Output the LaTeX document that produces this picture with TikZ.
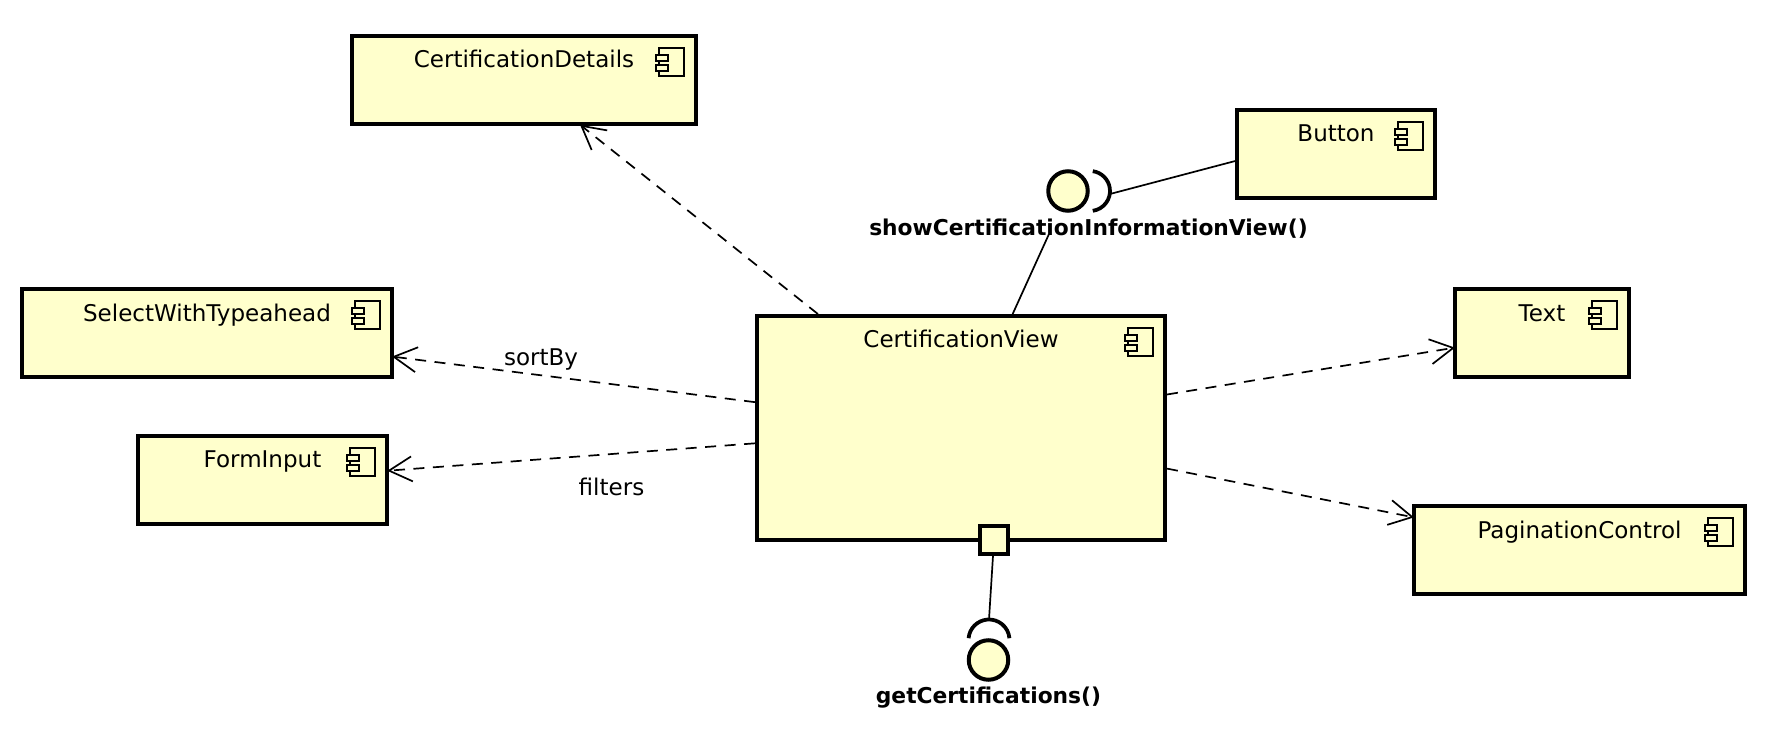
\documentclass[tikz,border=0pt]{standalone}
\usepackage{fontspec}
\setmainfont{DejaVu Sans}
\usetikzlibrary{calc, arrows.meta}
\definecolor{compfill}{HTML}{FFFFCC}
\newcommand{\compicon}[1]{%
  \begin{scope}[shift={(#1.north east)},fill=compfill,line width=.04cm]
    \filldraw (-.78,-.28) rectangle (-.28,-.84);
    \filldraw (-.84,-.42) rectangle (-.60,-.54);
    \filldraw (-.84,-.62) rectangle (-.60,-.74);
  \end{scope}}
\begin{document}
\begin{tikzpicture}[
  comp/.style={draw,fill=compfill,line width=.08cm,inner sep=0pt,minimum height=1.76cm},
  iface/.style={draw,shape=circle,fill=compfill,line width=.08cm,inner sep=0pt,minimum size=.79cm},
  compname/.style={anchor=base,inner sep=0pt,font=\fontsize{13.1}{15}\selectfont},
  ifacename/.style={anchor=base,inner sep=0pt,font=\fontsize{12.4}{15}\selectfont\bfseries},
  dep/.style={dash pattern=on .22cm off .17cm,line width=.034cm,shorten >=-.04cm,-{Straight Barb[length=.46cm,width=.5cm,line width=.034cm]}},
  conn/.style={line width=.034cm},
  socket/.style={line width=.075cm}]
  \useasboundingbox (0,0) rectangle (35.44,14.8);
  \path (10.48,13.20) node[comp,minimum width=6.87cm] (details) {}
  (4.14,8.13) node[comp,minimum width=7.40cm] (select) {}
  (5.25,5.20) node[comp,minimum width=4.99cm] (forminput) {}
  (26.72,11.72) node[comp,minimum width=3.96cm] (button) {}
  (30.84,8.13) node[comp,minimum width=3.48cm] (text) {}
  (31.59,3.80) node[comp,minimum width=6.62cm] (pagination) {}
  (19.22,6.24) node[comp,minimum width=8.16cm,minimum height=4.48cm] (view) {};
  \path ($(details.north)+(0,-.68)$) node[compname] (detailsname) {CertificationDetails}
  ($(select.north)+(0,-.68)$) node[compname] (selectname) {SelectWithTypeahead}
  ($(forminput.north)+(0,-.68)$) node[compname] (forminputname) {FormInput}
  ($(button.north)+(0,-.68)$) node[compname] (buttonname) {Button}
  ($(text.north)+(0,-.68)$) node[compname] (textname) {Text}
  ($(pagination.north)+(0,-.68)$) node[compname] (paginationname) {PaginationControl}
  ($(view.north)+(0,-.68)$) node[compname] (viewname) {CertificationView};
  \compicon{details} \compicon{select} \compicon{forminput} \compicon{button}
  \compicon{text} \compicon{pagination} \compicon{view}
  \path (19.88,4.00) node[comp,minimum width=.56cm,minimum height=.56cm] (port) {}
  (21.36,10.98) node[iface] (showiface) {} (19.77,1.60) node[iface] (getiface) {};
  \coordinate (showsocket) at (22.2,10.92);
  \coordinate (showend) at (20.98,10.12);
  \coordinate (getsocket) at (19.78,2.41);
  \draw[dep] (view) -- (details);
  \draw[dep] (view) -- (select);
  \draw[dep] (view) -- (forminput);
  \draw[dep] (view) -- (text);
  \draw[dep] (view) -- (pagination);
  \draw[conn] (view) -- (showend);
  \draw[conn] (button.184.5) -- (showsocket);
  \draw[conn] (port) -- (getsocket);
  \draw[socket] ([shift={(21.80,10.98)}]-82:.4) arc (-82:82:.4);
  \draw[socket] ([shift={(19.78,2.00)}]5:.41) arc (5:175:.41);
  \path (10.82,7.48) node[compname] (sortby) {sortBy}
  (12.23,4.88) node[compname] (filters) {filters}
  (21.77,10.09) node[ifacename] (showname) {showCertificationInformationView()}
  (19.77,.74) node[ifacename] (getname) {getCertifications()};
\end{tikzpicture}
\end{document}
